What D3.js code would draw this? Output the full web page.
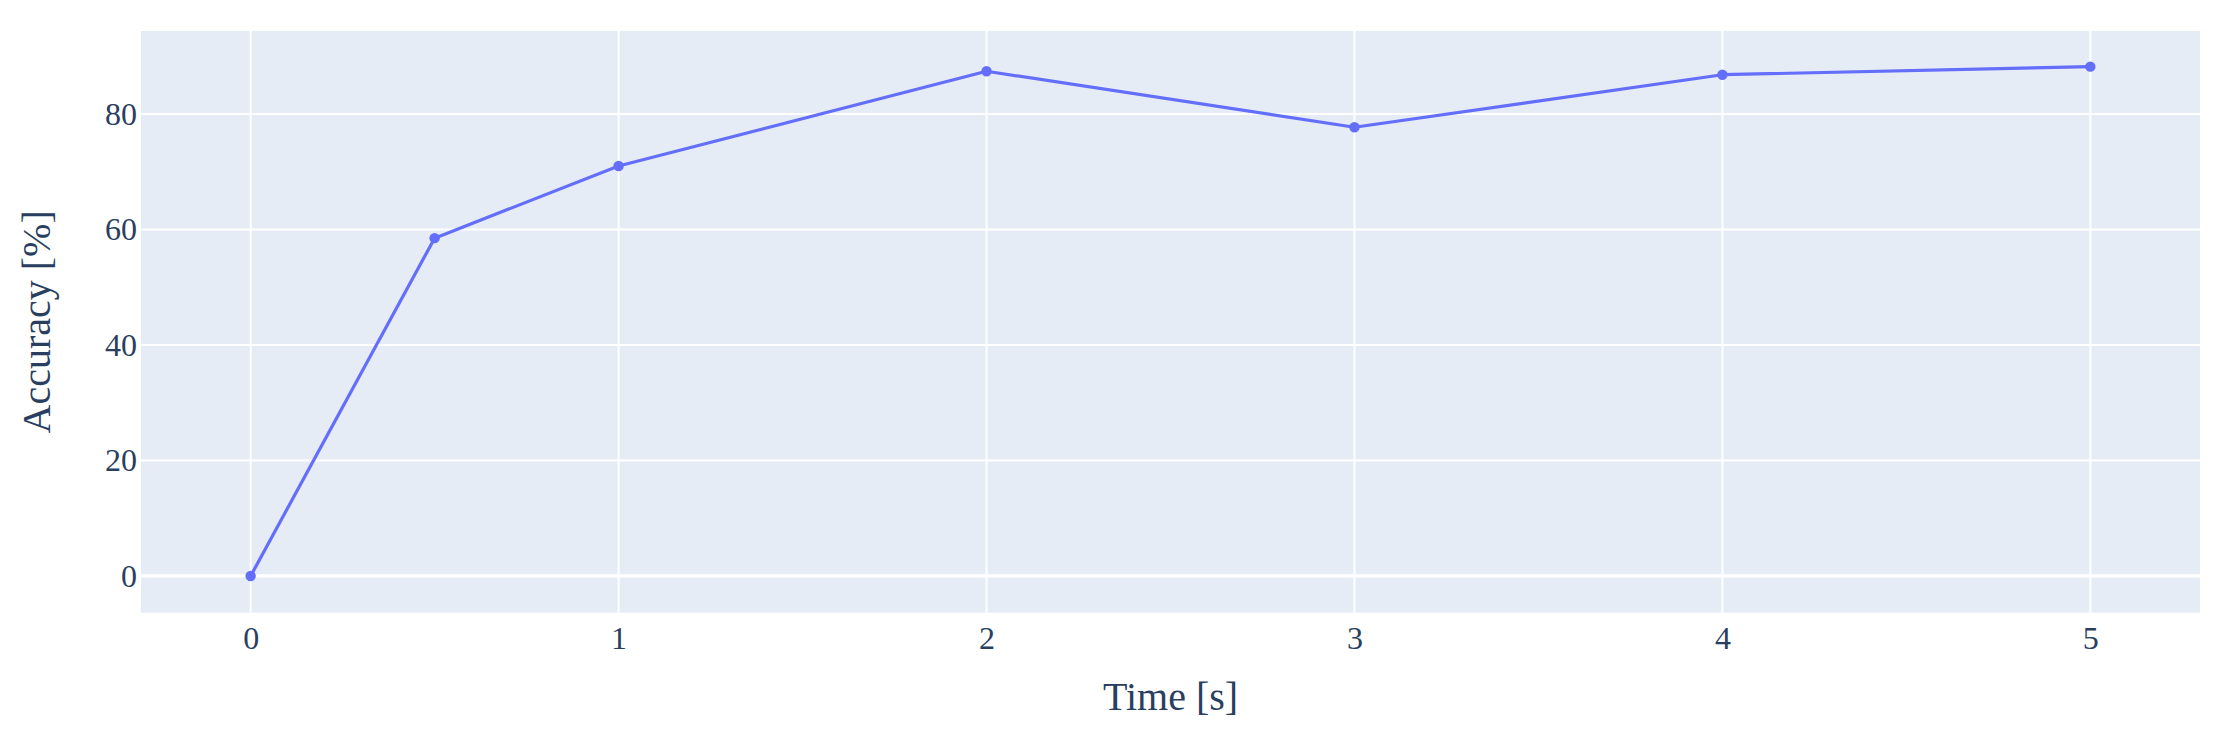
<!DOCTYPE html>
<html>
<head>
<meta charset="utf-8">
<script src="https://cdn.jsdelivr.net/npm/d3@7"></script>
<style>
  html, body { margin: 0; padding: 0; background: #fff; }
  svg { display: block; }
</style>
</head>
<body>
<svg id="chart" width="2226" height="748"></svg>
<script>
// ---- data ----
const timeValues = [0, 0.5, 1, 2, 3, 4, 5];
const accuracyValues = [0, 58.5, 71.0, 87.4, 77.7, 86.8, 88.2];
const xTickValues = [0, 1, 2, 3, 4, 5];
const yTickValues = [0, 20, 40, 60, 80];
const xRange = [-0.298, 5.298];
const yRange = [-6.36, 94.37];
const xTitle = "Time [s]";
const yTitle = "Accuracy [%]";

// ---- layout ----
const W = 2226, H = 748;
const plot = { left: 141, right: 2200, top: 31, bottom: 612.7 };
const fontFamily = "'Liberation Serif', 'Times New Roman', Times, serif";
const textColor = "#2a3f5f";

const svg = d3.select("#chart");
const x = d3.scaleLinear().domain(xRange).range([plot.left, plot.right]);
const y = d3.scaleLinear().domain(yRange).range([plot.bottom, plot.top]);

// background
svg.append("rect")
  .attr("x", plot.left).attr("y", plot.top)
  .attr("width", plot.right - plot.left).attr("height", plot.bottom - plot.top)
  .attr("fill", "#E5ECF6");

// vertical grid
svg.append("g").selectAll("line").data(xTickValues).join("line")
  .attr("x1", d => x(d)).attr("x2", d => x(d))
  .attr("y1", plot.top).attr("y2", plot.bottom)
  .attr("stroke", "#ffffff").attr("stroke-width", 2);

// horizontal grid
svg.append("g").selectAll("line").data(yTickValues).join("line")
  .attr("x1", plot.left).attr("x2", plot.right)
  .attr("y1", d => y(d)).attr("y2", d => y(d))
  .attr("stroke", "#ffffff").attr("stroke-width", d => d === 0 ? 3.2 : 2);

// axes (labels only, via d3 axes)
const xAxis = svg.append("g")
  .attr("transform", `translate(0,${plot.bottom})`)
  .call(d3.axisBottom(x).tickValues(xTickValues).tickSize(0).tickPadding(14).tickFormat(d3.format("d")));
xAxis.select(".domain").remove();
xAxis.selectAll("text")
  .attr("font-family", fontFamily).attr("font-size", 32).attr("fill", textColor);

const yAxis = svg.append("g")
  .attr("transform", `translate(${plot.left},0)`)
  .call(d3.axisLeft(y).tickValues(yTickValues).tickSize(0).tickPadding(4).tickFormat(d3.format("d")));
yAxis.select(".domain").remove();
yAxis.selectAll("text")
  .attr("font-family", fontFamily).attr("font-size", 32).attr("fill", textColor);

// line
const pts = timeValues.map((t, i) => [t, accuracyValues[i]]);
const line = d3.line().x(d => x(d[0])).y(d => y(d[1]));
svg.append("path")
  .datum(pts)
  .attr("d", line)
  .attr("fill", "none")
  .attr("stroke", "#636EFA")
  .attr("stroke-width", 3.2)
  .attr("stroke-linejoin", "round");

svg.append("g").selectAll("circle").data(pts).join("circle")
  .attr("cx", d => x(d[0])).attr("cy", d => y(d[1]))
  .attr("r", 5.2)
  .attr("fill", "#636EFA");

// axis titles
svg.append("text")
  .attr("x", (plot.left + plot.right) / 2).attr("y", 710)
  .attr("text-anchor", "middle")
  .attr("font-family", fontFamily).attr("font-size", 40).attr("fill", textColor)
  .text(xTitle);

svg.append("text")
  .attr("transform", `translate(50,${(plot.top + plot.bottom) / 2}) rotate(-90)`)
  .attr("text-anchor", "middle")
  .attr("font-family", fontFamily).attr("font-size", 40).attr("fill", textColor)
  .text(yTitle);
</script>
</body>
</html>
